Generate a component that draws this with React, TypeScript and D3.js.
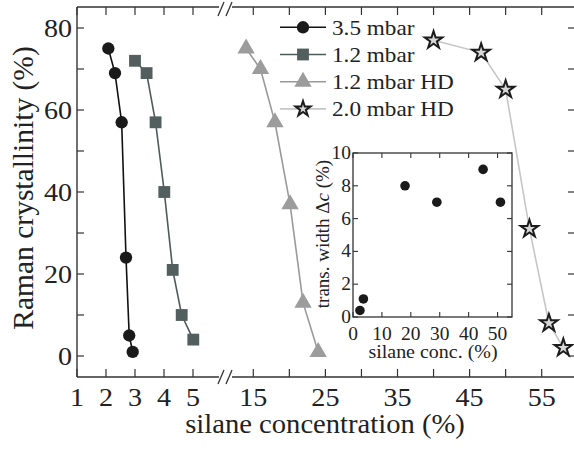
import React from 'react';
import * as d3 from 'd3';

const x35 = [2.08, 2.31, 2.54, 2.69, 2.8, 2.92];
const y35 = [75, 69, 57, 24, 5, 1];
const x12 = [3.0, 3.4, 3.71, 4.01, 4.3, 4.61, 5.01];
const y12 = [72, 69, 57, 40, 21, 10, 4];
const x12HD = [14, 16, 18, 20.1, 21.9, 24];
const y12HD = [75, 70, 57, 37, 13, 1];
const x20HD = [40, 46.6, 50, 53.3, 56, 58];
const y20HD = [77, 74, 65, 31, 8, 2];
const insetX = [2.4, 3.6, 18, 29, 45, 51];
const insetY = [0.4, 1.1, 8, 7, 9, 7];
const seriesNames = ['3.5 mbar', '1.2 mbar', '1.2 mbar HD', '2.0 mbar HD'];
const leftTicks = [1, 2, 3, 4, 5];
const rightTicks = [15, 20, 25, 30, 35, 40, 45, 50, 55];
const rightLabels = [15, 25, 35, 45, 55];
const yTicks = [0, 10, 20, 30, 40, 50, 60, 70, 80];
const yLabels = [0, 20, 40, 60, 80];
const insetXTicks = [0, 10, 20, 30, 40, 50];
const insetYTicks = [0, 2, 4, 6, 8, 10];

const FONT = "'Liberation Serif', 'Times New Roman', Times, serif";
const SX = 1.08;

function T({ x, y, size, anchor = 'middle', rotate = 0, sx = SX, children }: any) {
  return (
    <text
      transform={`translate(${x},${y}) rotate(${rotate}) scale(${sx},1)`}
      textAnchor={anchor}
      fill="#222"
      style={{ fontFamily: FONT, fontSize: `${size}px` }}
    >
      {children}
    </text>
  );
}

export default function App() {
  const left = 77, top = 7, bottom = 377, right = 575;
  const xL = d3.scaleLinear().domain([1, 5]).range([77, 193]);
  const xR = d3.scaleLinear().domain([15, 55]).range([253.3, 541.7]);
  const xAny = (v: number) => (v < 10 ? xL(v) : xR(v));
  const y = d3.scaleLinear().domain([0, 80]).range([356, 28]);

  const ix = d3.scaleLinear().domain([0, 55]).range([353, 512]);
  const iy = d3.scaleLinear().domain([0, 10]).range([317, 153]);

  const series = [
    { xs: x35, ys: y35, line: '#111', fill: '#1a1a1a', stroke: 'none', sym: d3.symbolCircle, size: 120 },
    { xs: x12, ys: y12, line: '#4f5a5a', fill: '#535e5e', stroke: 'none', sym: d3.symbolSquare, size: 140 },
    { xs: x12HD, ys: y12HD, line: '#9a9a9a', fill: '#9c9c9c', stroke: 'none', sym: d3.symbolTriangle, size: 130 },
    { xs: x20HD, ys: y20HD, line: '#c6c6c6', fill: '#d8d8d8', stroke: '#1c1c1c', sym: d3.symbolStar, size: 95 },
  ];

  const lineGen = d3.line<[number, number]>().x((d) => xAny(d[0])).y((d) => y(d[1]));
  const frame = '#333';
  const fw = 1.4;

  const legendY = (i: number) => 27.3 + i * 27.2;

  const slash = (cx: number, cy: number, k: number) => (
    <line key={`s${k}`} x1={cx - 3} y1={cy + 7} x2={cx + 3} y2={cy - 7} stroke={frame} strokeWidth={1.3} />
  );

  return (
    <svg width={574} height={450} style={{ position: 'fixed', left: 0, top: 0, background: '#fff' }}>
      <rect x={0} y={0} width={574} height={450} fill="#fff" />
      {/* frame */}
      <line x1={left} y1={top} x2={left} y2={bottom} stroke={frame} strokeWidth={fw} />
      <line x1={left} y1={top} x2={219} y2={top} stroke={frame} strokeWidth={fw} />
      <line x1={232} y1={top} x2={right} y2={top} stroke={frame} strokeWidth={fw} />
      <line x1={left} y1={bottom} x2={219} y2={bottom} stroke={frame} strokeWidth={fw} />
      <line x1={232} y1={bottom} x2={right} y2={bottom} stroke={frame} strokeWidth={fw} />
      {slash(221, 9, 1)}
      {slash(229, 9, 2)}
      {slash(221, 377, 3)}
      {slash(229, 377, 4)}

      {/* x ticks */}
      {leftTicks.map((t) => (
        <g key={`lt${t}`}>
          <line x1={xL(t)} x2={xL(t)} y1={bottom} y2={bottom - 8} stroke={frame} strokeWidth={1.2} />
          <line x1={xL(t)} x2={xL(t)} y1={top} y2={top + 8} stroke={frame} strokeWidth={1.2} />
          <T x={xL(t)} y={406} size={26}>{t}</T>
        </g>
      ))}
      {rightTicks.map((t) => (
        <g key={`rt${t}`}>
          <line x1={xR(t)} x2={xR(t)} y1={bottom} y2={bottom - 8} stroke={frame} strokeWidth={1.2} />
          <line x1={xR(t)} x2={xR(t)} y1={top} y2={top + 8} stroke={frame} strokeWidth={1.2} />
        </g>
      ))}
      {rightLabels.map((t) => (
        <T key={`rl${t}`} x={xR(t)} y={406} size={26}>{t}</T>
      ))}

      {/* y ticks */}
      {yTicks.map((t) => (
        <g key={`yt${t}`}>
          <line x1={left} x2={left + 7} y1={y(t)} y2={y(t)} stroke={frame} strokeWidth={1.2} />
          <line x1={568} x2={575} y1={y(t)} y2={y(t)} stroke={frame} strokeWidth={1.2} />
        </g>
      ))}
      {yLabels.map((t) => (
        <T key={`yl${t}`} x={72} y={y(t) + 9} size={26} anchor="end">{t}</T>
      ))}

      {/* axis titles */}
      <T x={325} y={433} size={26.5}>silane concentration (%)</T>
      <T x={33} y={188} size={29.5} rotate={-90} sx={1}>Raman crystallinity (%)</T>

      {/* series lines */}
      {series.map((s, i) => (
        <path
          key={`l${i}`}
          d={lineGen(s.xs.map((v, j) => [v, s.ys[j]]) as [number, number][]) || ''}
          fill="none"
          stroke={s.line}
          strokeWidth={1.6}
        />
      ))}

      {/* inset */}
      <rect x={353} y={153} width={159} height={164} fill="#fff" stroke={frame} strokeWidth={1.3} />
      {insetXTicks.map((t) => (
        <g key={`ixt${t}`}>
          <line x1={ix(t)} x2={ix(t)} y1={317} y2={312} stroke={frame} strokeWidth={1.1} />
          <line x1={ix(t)} x2={ix(t)} y1={153} y2={158} stroke={frame} strokeWidth={1.1} />
          <T x={ix(t)} y={340} size={18}>{t}</T>
        </g>
      ))}
      {insetYTicks.map((t) => (
        <g key={`iyt${t}`}>
          <line x1={353} x2={358} y1={iy(t)} y2={iy(t)} stroke={frame} strokeWidth={1.1} />
          <line x1={507} x2={512} y1={iy(t)} y2={iy(t)} stroke={frame} strokeWidth={1.1} />
          <T x={351} y={iy(t) + 6} size={18} anchor="end">{t}</T>
        </g>
      ))}
      <T x={433} y={358} size={18.5}>silane conc. (%)</T>
      <T x={329} y={234} size={19} rotate={-90} sx={1}>
        trans. width Δ<tspan style={{ fontStyle: 'italic' }}>c</tspan> (%)
      </T>
      {insetX.map((v, i) => (
        <circle key={`ip${i}`} cx={ix(v)} cy={iy(insetY[i])} r={4.8} fill="#1a1a1a" />
      ))}

      {/* markers */}
      {series.map((s, i) =>
        s.xs.map((v, j) => (
          <path
            key={`m${i}-${j}`}
            d={d3.symbol().type(s.sym).size(s.size)() || ''}
            transform={`translate(${xAny(v)},${y(s.ys[j])})`}
            fill={s.fill}
            stroke={s.stroke}
            strokeWidth={s.stroke === 'none' ? 0 : 2}
            strokeLinejoin="miter"
          />
        ))
      )}

      {/* legend */}
      {series.map((s, i) => (
        <g key={`lg${i}`}>
          <line x1={280} x2={326} y1={legendY(i)} y2={legendY(i)} stroke={s.line} strokeWidth={1.6} />
          <path
            d={d3.symbol().type(s.sym).size(i === 3 ? 70 : s.size)() || ''}
            transform={`translate(303,${legendY(i)})`}
            fill={s.fill}
            stroke={s.stroke}
            strokeWidth={s.stroke === 'none' ? 0 : 2}
          />
          <T x={332} y={legendY(i) + 7.5} size={21.5} anchor="start">{seriesNames[i]}</T>
        </g>
      ))}
    </svg>
  );
}
